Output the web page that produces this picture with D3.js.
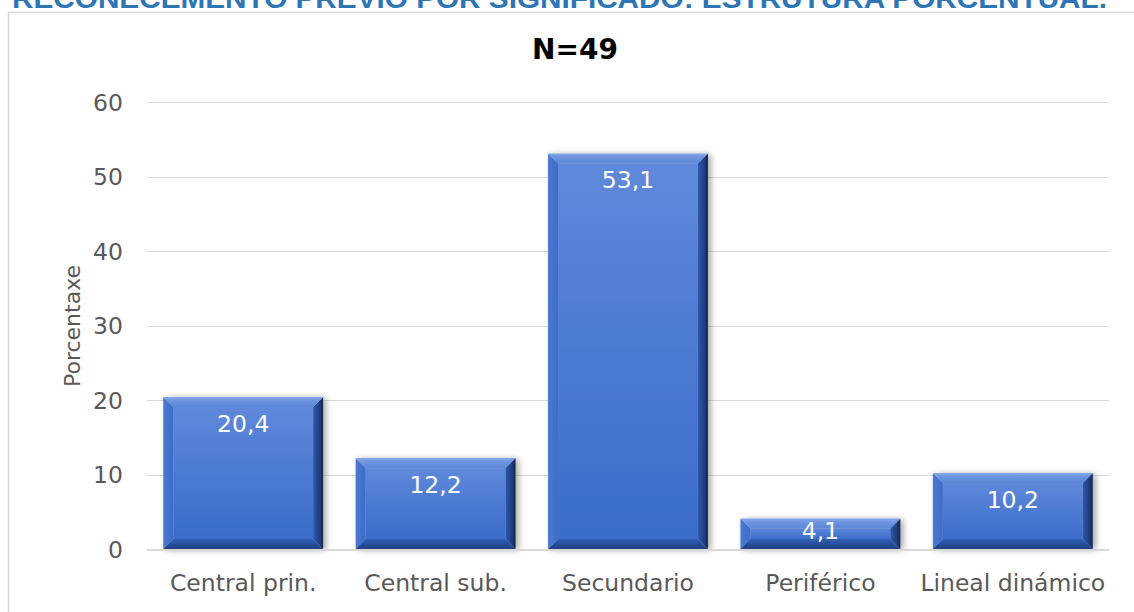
<!DOCTYPE html>
<html>
<head>
<meta charset="utf-8">
<script src="https://cdn.jsdelivr.net/npm/d3@7/dist/d3.min.js"></script>
<style>
  html, body { margin: 0; padding: 0; background: #fff; }
  svg { display: block; }
</style>
</head>
<body>
<svg id="chart" width="1134" height="612"></svg>
<script>
const categories = ["Central prin.", "Central sub.", "Secundario", "Periférico", "Lineal dinámico"];
const values = [20.4, 12.2, 53.1, 4.1, 10.2];
const valueLabels = ["20,4", "12,2", "53,1", "4,1", "10,2"];
const yTicks = [0, 10, 20, 30, 40, 50, 60];
const titleText = "RECOÑECEMENTO PREVIO POR SIGNIFICADO: ESTRUTURA PORCENTUAL.";
const subtitleText = "N=49";
const yAxisTitle = "Porcentaxe";

const svg = d3.select("#chart");
const font = "'DejaVu Sans', Verdana, sans-serif";
const fs = 23.5;

const defs = svg.append("defs");
const sh = defs.append("filter").attr("id", "shadow").attr("x", "-10%").attr("y", "-10%").attr("width", "130%").attr("height", "130%");
sh.append("feDropShadow").attr("dx", 3).attr("dy", 1).attr("stdDeviation", 3)
  .attr("flood-color", "#000").attr("flood-opacity", 0.35);

function vgrad(id, stops, horiz) {
  const g = defs.append("linearGradient").attr("id", id)
    .attr("x1", 0).attr("y1", 0).attr("x2", horiz ? 1 : 0).attr("y2", horiz ? 0 : 1);
  stops.forEach(s => g.append("stop").attr("offset", s[0]).attr("stop-color", s[1]));
}
vgrad("gCenter", [[0, "#5F89DA"], [1, "#3A6CCB"]]);
vgrad("gTop", [[0, "#86A8E8"], [0.35, "#6E96E0"], [1, "#5C86D8"]]);
vgrad("gLeft", [[0, "#4A78D0"], [1, "#3D6DC9"]], true);
vgrad("gRight", [[0, "#2E58AE"], [0.7, "#1E3B78"], [1, "#13244A"]], true);
vgrad("gBottom", [[0, "#3060B8"], [1, "#213F80"]]);

// title (cut off at top, as in the reference)
svg.append("text")
  .attr("x", 12).attr("y", 8)
  .attr("textLength", 1095).attr("lengthAdjust", "spacingAndGlyphs")
  .attr("font-family", "'Liberation Sans Narrow', 'Liberation Sans', Arial, sans-serif")
  .attr("font-weight", "bold").attr("font-size", 27)
  .attr("fill", "#2E75B6")
  .text(titleText);

// chart border
svg.append("rect").attr("x", 8.5).attr("y", 12.5).attr("width", 1140).attr("height", 620)
  .attr("fill", "#fff").attr("stroke", "#D9D9D9").attr("stroke-width", 1.5);

const x = d3.scaleBand().domain(categories).range([147, 1109]).paddingInner(0.169).paddingOuter(0.0845);
const y = d3.scaleLinear().domain([0, 60]).range([549, 102]);

// gridlines
svg.append("g").selectAll("line").data(yTicks.filter(t => t > 0)).join("line")
  .attr("x1", 147).attr("x2", 1109)
  .attr("y1", d => Math.round(y(d)) + 0.5).attr("y2", d => Math.round(y(d)) + 0.5)
  .attr("stroke", "#D9D9D9").attr("stroke-width", 1);

// y axis tick labels
const yAxis = d3.axisLeft(y).tickValues(yTicks).tickSize(0).tickPadding(0).tickFormat(d3.format("d"));
const ya = svg.append("g").attr("transform", "translate(123,0)").call(yAxis);
ya.select(".domain").remove();
ya.selectAll("text").attr("font-family", font).attr("font-size", fs).attr("fill", "#595959")
  .attr("dy", null).attr("dominant-baseline", "central");

// bars
const bars = svg.append("g").selectAll("g").data(values).join("g")
  .attr("filter", "url(#shadow)");
bars.each(function(v, i) {
  const g = d3.select(this);
  const x0 = x(categories[i]), x1 = x0 + x.bandwidth();
  const y0 = y(v), y1 = y(0);
  const h = y1 - y0;
  const b = Math.min(10, h / 3);
  const pts = a => a.map(p => p.join(",")).join(" ");
  g.append("rect").attr("x", x0 + b).attr("y", y0 + b).attr("width", x1 - x0 - 2 * b).attr("height", h - 2 * b).attr("fill", "url(#gCenter)");
  g.append("polygon").attr("points", pts([[x0, y0], [x0 + b, y0 + b], [x0 + b, y1 - b], [x0, y1]])).attr("fill", "url(#gLeft)");
  g.append("polygon").attr("points", pts([[x0, y1], [x0 + b, y1 - b], [x1 - b, y1 - b], [x1, y1]])).attr("fill", "url(#gBottom)");
  g.append("polygon").attr("points", pts([[x1, y0], [x1, y1], [x1 - b, y1 - b], [x1 - b, y0 + b]])).attr("fill", "url(#gRight)");
  g.append("polygon").attr("points", pts([[x0, y0], [x1, y0], [x1 - b, y0 + b], [x0 + b, y0 + b]])).attr("fill", "url(#gTop)");
});

// baseline axis
svg.append("line").attr("x1", 147).attr("x2", 1109).attr("y1", y(0) + 1).attr("y2", y(0) + 1)
  .attr("stroke", "#D9D9D9").attr("stroke-width", 2);

// value labels
svg.append("g").selectAll("text").data(values).join("text")
  .attr("x", (d, i) => x(categories[i]) + x.bandwidth() / 2)
  .attr("y", d => { const h = y(0) - y(d); return y(d) + Math.min(27, h / 2 - 3); })
  .attr("dominant-baseline", "central")
  .attr("text-anchor", "middle")
  .attr("font-family", font).attr("font-size", fs).attr("fill", "#FFFFFF")
  .text((d, i) => valueLabels[i]);

// x axis labels
const xAxis = d3.axisBottom(x).tickSize(0).tickPadding(0);
const xa = svg.append("g").attr("transform", "translate(0,583)").call(xAxis);
xa.select(".domain").remove();
xa.selectAll("text").attr("font-family", font).attr("font-size", fs).attr("fill", "#595959")
  .attr("dy", null).attr("y", 0).attr("dominant-baseline", "central");

// axis title
svg.append("text")
  .attr("transform", "translate(72,326) rotate(-90)")
  .attr("text-anchor", "middle").attr("dominant-baseline", "central")
  .attr("font-family", font).attr("font-size", 22).attr("fill", "#595959")
  .text(yAxisTitle);

// subtitle
svg.append("text")
  .attr("x", 575).attr("y", 49)
  .attr("text-anchor", "middle").attr("dominant-baseline", "central")
  .attr("font-family", font).attr("font-weight", "bold").attr("font-size", 28).attr("fill", "#000")
  .text(subtitleText);
</script>
</body>
</html>
